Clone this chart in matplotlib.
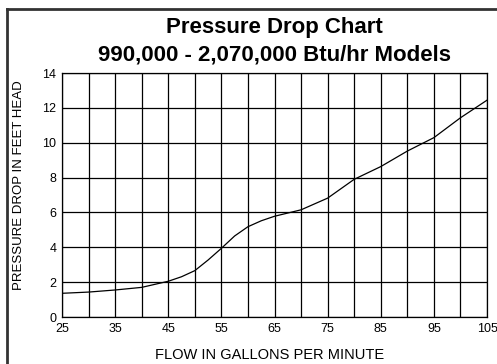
import matplotlib.pyplot as plt
from matplotlib.lines import Line2D

plt.rcParams['font.family'] = ['Liberation Sans', 'DejaVu Sans']

# flow (gpm) vs pressure drop (ft head)
flow = [25, 30, 35, 40, 45, 47.5, 50, 52.5, 55, 57.5, 60, 62.5, 65, 70, 75, 80, 85, 90, 95, 100, 105]
drop = [1.36, 1.43, 1.55, 1.70, 2.05, 2.31, 2.66, 3.27, 3.94, 4.65, 5.18, 5.52, 5.78, 6.15, 6.82, 7.9, 8.63, 9.52, 10.29, 11.43, 12.44]

x_ticks = [25, 35, 45, 55, 65, 75, 85, 95, 105]
y_ticks = [0, 2, 4, 6, 8, 10, 12, 14]

fig = plt.figure(figsize=(4.97, 3.64), dpi=100)
ax = fig.add_axes([62 / 497, 1 - 317 / 364, 425 / 497, 244 / 364])

ax.plot(flow, drop, color='black', lw=0.9)

ax.set_xlim(25, 105)
ax.set_ylim(0, 14)
ax.set_xticks(range(25, 106, 5))
ax.set_xticklabels([str(v) if v in x_ticks else '' for v in range(25, 106, 5)])
ax.set_yticks(y_ticks)
ax.grid(True, color='black', lw=0.9)
ax.tick_params(length=0, labelsize=9, pad=4)
for s in ax.spines.values():
    s.set_linewidth(0.9)

ax.set_xlabel('FLOW IN GALLONS PER MINUTE', fontsize=10.5)
ax.xaxis.set_label_coords((270 - 62) / 425, -(355 - 317) / 244)
ax.xaxis.label.set_va('center')
ax.set_ylabel('PRESSURE DROP IN FEET HEAD', fontsize=9.5)
ax.yaxis.set_label_coords(-(62 - 19) / 425, (317 - 185) / 244)
ax.yaxis.label.set_va('center')

fig.text(274 / 497, 1 - 28 / 364, 'Pressure Drop Chart', ha='center', va='center',
         fontsize=16, fontweight='bold')
fig.text(274 / 497, 1 - 55 / 364, '990,000 - 2,070,000 Btu/hr Models', ha='center', va='center',
         fontsize=16, fontweight='bold')

# frame around the sheet (left and top edges)
fig.add_artist(Line2D([7 / 497, 7 / 497], [0, 1 - 9 / 364], color='#333333', lw=2))
fig.add_artist(Line2D([7 / 497, 1], [1 - 9 / 364, 1 - 9 / 364], color='#333333', lw=2))

fig.savefig('out.png', dpi=100)
